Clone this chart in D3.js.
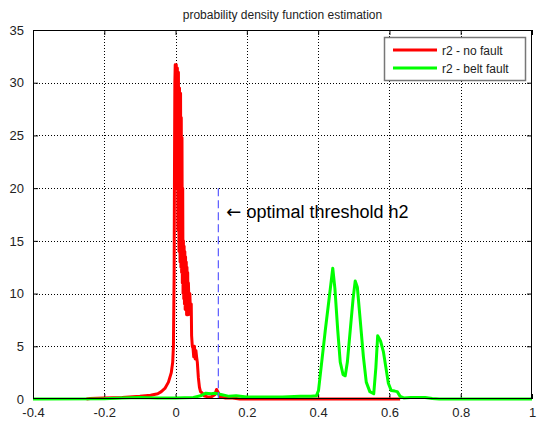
<!DOCTYPE html>
<html>
<head>
<meta charset="utf-8">
<script src="https://cdnjs.cloudflare.com/ajax/libs/d3/7.8.5/d3.min.js"></script>
<style>
  html, body { margin: 0; padding: 0; background: #fff; }
  svg { display: block; font-family: "Liberation Sans", Arial, Helvetica, sans-serif; }
</style>
</head>
<body>
<svg id="chart" width="538" height="423"></svg>
<script>
// r2 residual density, healthy machine
const noFaultX = [-0.25, -0.24, -0.2, -0.15, -0.1, -0.07, -0.05, -0.04, -0.03, -0.02, -0.012, -0.008, -0.006, -0.004, -0.003, -0.002, -0.001,
  0.0005, 0.002, 0.0035, 0.005, 0.0065, 0.008, 0.0095, 0.011, 0.0125, 0.014, 0.015, 0.016, 0.017, 0.018, 0.019,
  0.020, 0.021, 0.022, 0.023, 0.024, 0.025, 0.026, 0.027, 0.028, 0.029, 0.030, 0.031, 0.032, 0.033, 0.034,
  0.035, 0.036, 0.038, 0.040, 0.042, 0.044, 0.045, 0.047, 0.049, 0.051, 0.053, 0.055, 0.057, 0.059, 0.061,
  0.064, 0.067, 0.070, 0.075, 0.080, 0.090, 0.100, 0.110, 0.115, 0.120, 0.125, 0.14, 0.16, 0.17, 0.18, 0.3, 0.5, 0.63];
const noFaultY = [0, 0.05, 0.1, 0.15, 0.25, 0.35, 0.5, 0.7, 1.0, 1.6, 2.5, 3.5, 5, 12, 22, 30, 31.7,
  31.5, 31.7, 20, 31.4, 16, 31.0, 14, 29.5, 13, 29, 12.5, 26.7, 12, 24.8, 11,
  20, 10, 15, 9.5, 14.5, 9, 14, 8.5, 13.5, 8.5, 13, 8, 12.5, 8, 12,
  8, 11, 8.5, 10, 8, 9, 6, 5, 4.8, 4.0, 5.0, 3.8, 4.6, 4.0, 3.5,
  2, 1.1, 0.7, 0.55, 0.3, 0.2, 0.2, 0.4, 0.9, 0.6, 0.2, 0.1, 0.1, 0.05, 0, 0, 0, 0];

// r2 residual density, belt fault
const beltFaultX = [-0.4, -0.2, -0.15, -0.1, -0.05, 0, 0.05, 0.07, 0.085, 0.1, 0.11, 0.13, 0.15, 0.17, 0.2,
  0.25, 0.3, 0.35, 0.38, 0.395, 0.401, 0.41, 0.42, 0.43, 0.441, 0.447, 0.455, 0.462, 0.47, 0.476,
  0.482, 0.49, 0.498, 0.504, 0.51, 0.518, 0.527, 0.535, 0.545, 0.556, 0.562, 0.567, 0.575, 0.583, 0.59,
  0.597, 0.605, 0.615, 0.622, 0.63, 0.64, 0.66, 0.7, 0.72, 0.74, 1.0];
const beltFaultY = [0, 0.02, 0.1, 0.15, 0.1, 0.1, 0.15, 0.3, 0.55, 0.5, 0.55, 0.4, 0.25, 0.3, 0.2,
  0.2, 0.2, 0.25, 0.25, 0.3, 0.8, 3.5, 6.5, 9.3, 12.4, 10.5, 6.5, 3.5, 2.3, 2.2,
  3.5, 6.5, 9.5, 11.2, 10.6, 7.5, 4.0, 1.6, 0.7, 0.5, 3.0, 6.0, 5.5, 4.5, 3.0,
  1.5, 0.8, 0.75, 0.7, 0.25, 0.1, 0.15, 0.15, 0.05, 0, 0];

const xTicks = [-0.4, -0.2, 0, 0.2, 0.4, 0.6, 0.8, 1];
const yTicks = [0, 5, 10, 15, 20, 25, 30, 35];
const thresholdX = 0.12;
const thresholdTop = 20;

const seriesNames = ["r2 - no fault", "r2 - belt fault"];
const seriesColors = ["#ff0000", "#00ff00"];
const titleText = "probability density function estimation";
const noteArrow = "\u2190";
const noteText = " optimal threshold h2";

const svg = d3.select("#chart");
const plotL = 33, plotR = 532, plotT = 30, plotB = 399;

const x = d3.scaleLinear().domain([-0.4, 1]).range([plotL, plotR]);
const y = d3.scaleLinear().domain([0, 35]).range([plotB, plotT]);

// dotted grid
const grid = svg.append("g").attr("stroke", "#000").attr("stroke-width", 1)
  .attr("stroke-dasharray", "1,2").attr("shape-rendering", "crispEdges");
grid.selectAll(".gx").data(xTicks.slice(1, -1)).join("line")
  .attr("x1", d => Math.round(x(d)) + 0.5).attr("x2", d => Math.round(x(d)) + 0.5)
  .attr("y1", plotT).attr("y2", plotB);
grid.selectAll(".gy").data(yTicks.slice(1, -1)).join("line")
  .attr("x1", plotL).attr("x2", plotR)
  .attr("y1", d => Math.round(y(d)) + 0.5).attr("y2", d => Math.round(y(d)) + 0.5);

// axes with inward ticks on all four sides
const tickFmt = d => String(d);
svg.append("g").attr("transform", `translate(0,${plotB})`)
  .call(d3.axisBottom(x).tickValues(xTicks).tickFormat(tickFmt).tickSizeInner(-5).tickSizeOuter(0).tickPadding(9));
svg.append("g").attr("transform", `translate(0,${plotT})`)
  .call(d3.axisTop(x).tickValues(xTicks).tickFormat("").tickSizeInner(-5).tickSizeOuter(0));
svg.append("g").attr("transform", `translate(${plotL},0)`)
  .call(d3.axisLeft(y).tickValues(yTicks).tickFormat(tickFmt).tickSizeInner(-5).tickSizeOuter(0).tickPadding(9));
svg.append("g").attr("transform", `translate(${plotR},0)`)
  .call(d3.axisRight(y).tickValues(yTicks).tickFormat("").tickSizeInner(-5).tickSizeOuter(0));
svg.selectAll(".domain").remove();
svg.selectAll(".tick line").attr("stroke", "#000");
svg.selectAll(".tick text").attr("font-size", 13).attr("fill", "#222")
  .attr("font-family", "'Liberation Sans', Arial, sans-serif");

// density curves
const line = d3.line().x(d => x(d[0])).y(d => y(d[1]));
const series = [d3.zip(noFaultX, noFaultY), d3.zip(beltFaultX, beltFaultY)];
svg.append("g").selectAll("path").data(series).join("path")
  .attr("d", line).attr("fill", "none")
  .attr("stroke", (d, i) => seriesColors[i]).attr("stroke-width", 3)
  .attr("stroke-linejoin", "round");

// threshold marker
svg.append("line")
  .attr("x1", x(thresholdX)).attr("x2", x(thresholdX))
  .attr("y1", y(thresholdTop)).attr("y2", y(0))
  .attr("stroke", "#5a5aff").attr("stroke-width", 1.2).attr("stroke-dasharray", "8,4");
const note = svg.append("text").attr("x", x(thresholdX) + 8).attr("y", y(thresholdTop) + 30)
  .attr("font-size", 18).attr("fill", "#000");
note.append("tspan").attr("font-family", "'DejaVu Sans', sans-serif").text(noteArrow);
note.append("tspan").text(noteText);

// plot frame
svg.append("rect").attr("x", plotL + 0.5).attr("y", plotT + 0.5)
  .attr("width", plotR - plotL - 1).attr("height", plotB - plotT - 1)
  .attr("fill", "none").attr("stroke", "#000").attr("stroke-width", 1);

// title
svg.append("text").attr("x", (plotL + plotR) / 2).attr("y", 19)
  .attr("text-anchor", "middle").attr("font-size", 12).attr("fill", "#222").text(titleText);

// legend
const lg = svg.append("g").attr("transform", "translate(384,37)");
lg.append("rect").attr("x", 0.5).attr("y", 0.5).attr("width", 141).attr("height", 43)
  .attr("fill", "#fff").attr("stroke", "#777").attr("stroke-width", 1.5);
seriesNames.forEach((name, i) => {
  const yy = 13 + i * 18;
  lg.append("line").attr("x1", 9).attr("x2", 53).attr("y1", yy).attr("y2", yy)
    .attr("stroke", seriesColors[i]).attr("stroke-width", 3);
  lg.append("text").attr("x", 58).attr("y", yy + 4.5).attr("font-size", 12)
    .attr("fill", "#222").text(name);
});
</script>
</body>
</html>
